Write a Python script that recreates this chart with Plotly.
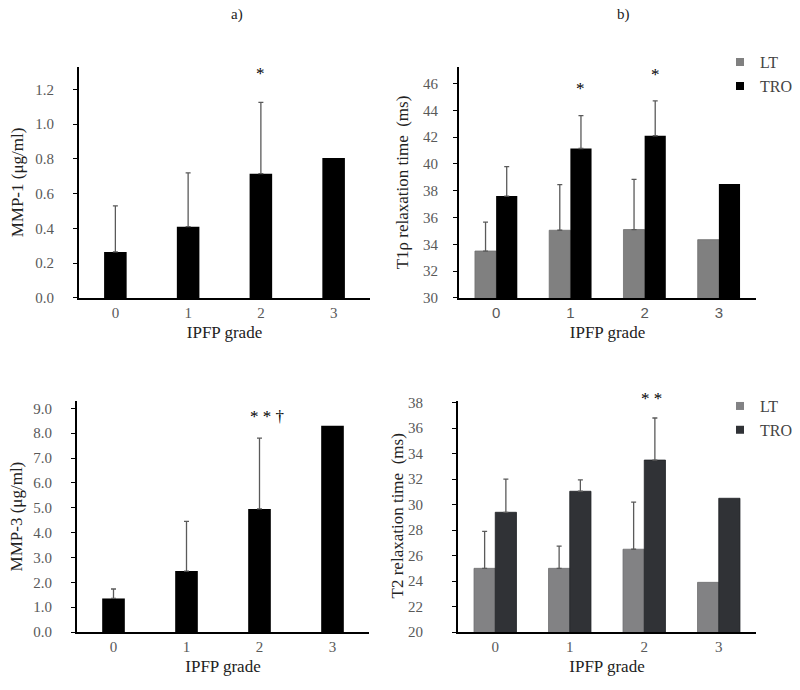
import plotly.graph_objects as go

# ---------------- data ----------------
grades = [0, 1, 2, 3]
grade_labels = ["0", "1", "2", "3"]

mmp1 = [0.265, 0.41, 0.715, 0.805]
mmp1_err = [0.265, 0.31, 0.41, None]

mmp3 = [1.35, 2.45, 4.95, 8.3]
mmp3_err = [0.38, 2.0, 2.85, None]

t1_lt = [33.5, 35.05, 35.1, 34.35]
t1_lt_err = [2.15, 3.4, 3.75, None]
t1_tro = [37.6, 41.15, 42.1, 38.5]
t1_tro_err = [2.2, 2.45, 2.6, None]

t2_lt = [25.0, 25.0, 26.5, 23.9]
t2_lt_err = [2.9, 1.75, 3.7, None]
t2_tro = [29.4, 31.05, 33.5, 30.5]
t2_tro_err = [2.6, 0.9, 3.3, None]

SERIF = "Liberation Serif"
SANS = "Liberation Sans"
TICK_GRAY = "#595959"
ERR_GRAY = "#5a5a5a"

fig = go.Figure()

def err(arr):
    # "NaN" strings make plotly.js skip the error bar for that bar
    up = [v if v is not None else "NaN" for v in arr]
    down = [0 if v is not None else "NaN" for v in arr]
    return dict(type="data", symmetric=False, array=up, arrayminus=down,
                color=ERR_GRAY, thickness=1.3, width=2.5)

# a) top: MMP-1
fig.add_trace(go.Bar(x=grades, y=mmp1, width=0.31, marker=dict(color="#000000", line=dict(width=0)),
                     error_y=err(mmp1_err), xaxis="x", yaxis="y", showlegend=False))
# a) bottom: MMP-3
fig.add_trace(go.Bar(x=grades, y=mmp3, width=0.31, marker=dict(color="#000000", line=dict(width=0)),
                     error_y=err(mmp3_err), xaxis="x3", yaxis="y3", showlegend=False))

# b) top: T1rho
fig.add_trace(go.Bar(x=grades, y=t1_lt, name="LT", marker=dict(color="#808080", line=dict(color="#6e6e6e", width=0.8)),
                     error_y=err(t1_lt_err), xaxis="x2", yaxis="y2", showlegend=False, offsetgroup="a"))
fig.add_trace(go.Bar(x=grades, y=t1_tro, name="TRO", marker=dict(color="#000000", line=dict(width=0)),
                     error_y=err(t1_tro_err), xaxis="x2", yaxis="y2", showlegend=False, offsetgroup="b"))
# b) bottom: T2
fig.add_trace(go.Bar(x=grades, y=t2_lt, name="LT", marker=dict(color="#828284", line=dict(color="#6e6e70", width=0.8)),
                     error_y=err(t2_lt_err), xaxis="x4", yaxis="y4", showlegend=False, offsetgroup="a"))
fig.add_trace(go.Bar(x=grades, y=t2_tro, name="TRO", marker=dict(color="#303236", line=dict(color="#202226", width=0.8)),
                     error_y=err(t2_tro_err), xaxis="x4", yaxis="y4", showlegend=False, offsetgroup="b"))

# legend entries (small squares)
for nm, col, ax, lg in [("LT", "#808080", ("x2", "y2"), "legend"),
                        ("TRO", "#000000", ("x2", "y2"), "legend"),
                        ("LT", "#828284", ("x4", "y4"), "legend2"),
                        ("TRO", "#303236", ("x4", "y4"), "legend2")]:
    fig.add_trace(go.Scatter(x=[None], y=[None], mode="markers", name=nm,
                             marker=dict(symbol="square", size=8, color=col),
                             xaxis=ax[0], yaxis=ax[1], legend=lg, showlegend=True))

W, H = 800, 690
def px_x(a, b):
    return [a / W, b / W]
def px_y(top, bottom):
    return [1 - bottom / H, 1 - top / H]

def xax(domain, anchor, tickfont_family=SERIF):
    return dict(domain=domain, anchor=anchor, range=[-0.5, 3.5], tickmode="array",
                tickvals=grades, ticktext=grade_labels, showline=True, linecolor="#000000",
                linewidth=1.8, ticks="", showgrid=False, zeroline=False,
                tickfont=dict(family=tickfont_family, size=15, color=TICK_GRAY),
                title=dict(text="IPFP grade", font=dict(family=SERIF, size=17, color="#222222"), standoff=6))

def yax(domain, anchor, rng, tickvals, ticktext, standoff):
    return dict(domain=domain, anchor=anchor, range=rng, tickmode="array", tickvals=tickvals,
                ticktext=ticktext, showline=True, linecolor="#000000", linewidth=1.8,
                ticks="outside", ticklen=4, tickwidth=1.3, tickcolor="#000000",
                ticklabelstandoff=standoff, showgrid=False, zeroline=False,
                tickfont=dict(family=SERIF, size=15, color=TICK_GRAY))

t_mmp1 = [0, 0.2, 0.4, 0.6, 0.8, 1.0, 1.2]
t_mmp3 = [0, 1, 2, 3, 4, 5, 6, 7, 8, 9]
t_t1 = [30, 32, 34, 36, 38, 40, 42, 44, 46]
t_t2 = [20, 22, 24, 26, 28, 30, 32, 34, 36, 38]

fig.update_layout(
    width=W, height=H, margin=dict(l=0, r=0, t=0, b=0),
    paper_bgcolor="white", plot_bgcolor="white",
    font=dict(family=SERIF),
    barmode="group", bargap=0.43, bargroupgap=0,
    xaxis=xax(px_x(79, 370), "y"),
    yaxis=yax(px_y(62, 298), "x", [0, 1.33], t_mmp1, [f"{v:.1f}" for v in t_mmp1], 16),
    xaxis2=xax(px_x(459, 756), "y2", SANS),
    yaxis2=yax(px_y(62, 298), "x2", [30, 47.25], t_t1, [str(v) for v in t_t1], 12),
    xaxis3=xax(px_x(77, 369), "y3"),
    yaxis3=yax(px_y(403, 639), "x3", [0, 9.3], t_mmp3, [f"{v:.1f}" for v in t_mmp3], 16),
    xaxis4=xax(px_x(458, 756), "y4"),
    yaxis4=yax(px_y(403, 639), "x4", [20, 38.15], t_t2, [str(v) for v in t_t2], 26),
    legend=dict(x=720 / W, y=1 - 40 / H, xanchor="left", yanchor="top",
                font=dict(family=SERIF, size=16, color="#444444"), bgcolor="rgba(0,0,0,0)",
                tracegroupgap=0, itemwidth=30),
    legend2=dict(x=720 / W, y=1 - 391 / H, xanchor="left", yanchor="top",
                 font=dict(family=SERIF, size=16, color="#444444"), bgcolor="rgba(0,0,0,0)",
                 tracegroupgap=0, itemwidth=30),
)

ytitle_font = dict(family=SERIF, size=17, color="#222222")
star_font = dict(family=SERIF, size=17, color="#000000")
def paper_txt(text, x, y, angle=0, font=None):
    return dict(text=text, x=x / W, y=1 - y / H, xref="paper", yref="paper", showarrow=False,
                xanchor="center", yanchor="middle", textangle=angle, font=font)

annos = [
    paper_txt("a)", 237, 9, font=dict(family=SERIF, size=15, color="#222222")),
    paper_txt("b)", 623, 9, font=dict(family=SERIF, size=15, color="#222222")),
    paper_txt("MMP-1 (μg/ml)", 17, 180, -90, ytitle_font),
    paper_txt("T1ρ relaxation time \u00a0(ms)", 402, 180, -90, ytitle_font),
    paper_txt("MMP-3 (μg/ml)", 16, 521, -90, ytitle_font),
    paper_txt("T2 relaxation time \u00a0(ms)", 397, 521, -90, ytitle_font),
    # significance marks
    dict(text="*", x=2, y=1.29, xref="x", yref="y", showarrow=False, yanchor="middle", font=star_font),
    dict(text="*", x=1.143, y=45.6, xref="x2", yref="y2", showarrow=False, yanchor="middle", font=star_font),
    dict(text="*", x=2.143, y=46.7, xref="x2", yref="y2", showarrow=False, yanchor="middle", font=star_font),
    dict(text="* * †", x=2.1, y=8.65, xref="x3", yref="y3", showarrow=False, yanchor="middle", font=star_font),
    dict(text="* *", x=2.1, y=1 - 401 / H, xref="x4", yref="paper", showarrow=False, yanchor="middle",
         font=star_font),
]
fig.update_layout(annotations=annos)

fig.write_html("out.html", config={"displayModeBar": False},
               post_script="document.body.style.margin='0';")
